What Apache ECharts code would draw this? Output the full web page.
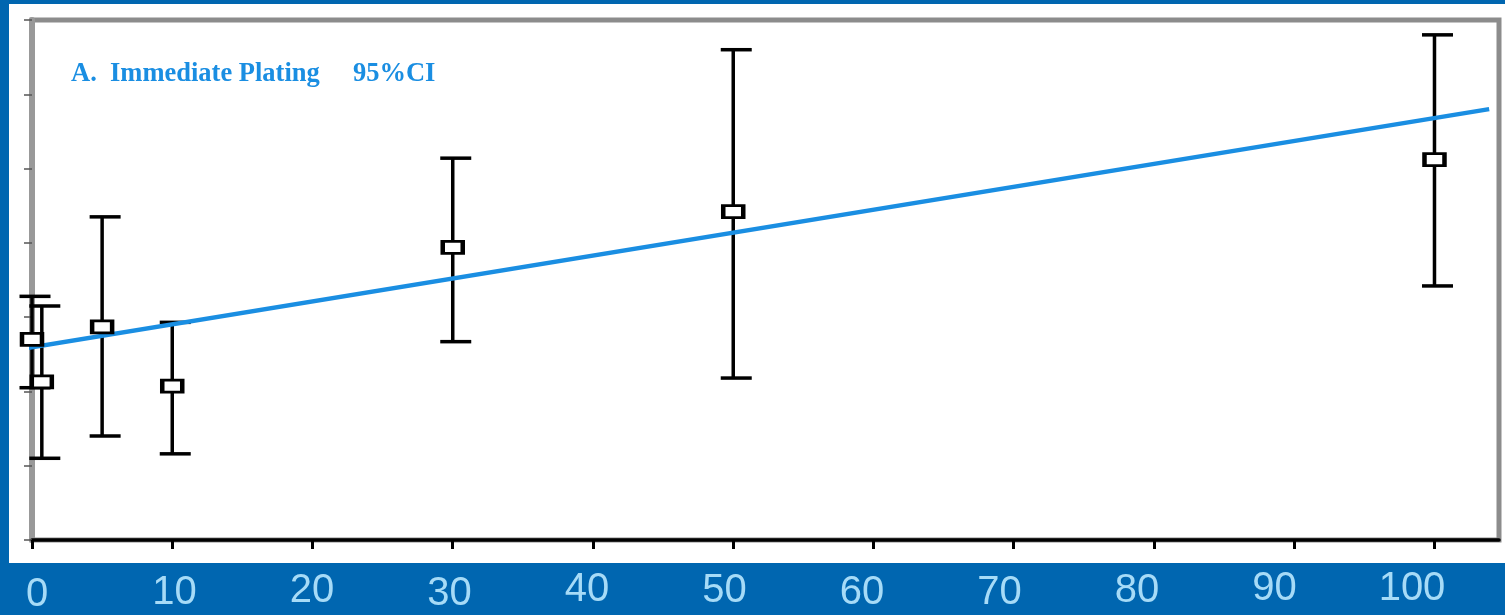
<!DOCTYPE html>
<html>
<head>
<meta charset="utf-8">
<script src="https://cdn.jsdelivr.net/npm/echarts@6/dist/echarts.min.js"></script>
<style>
html,body{margin:0;padding:0;background:#0066b0;}
#c{width:1505px;height:615px;}
</style>
</head>
<body>
<div id="c"></div>
<script>
// ---- data ----
const doseX   = [0, 0.7, 5, 10, 30, 50, 100];
const meanY   = [2.70, 2.13, 2.87, 2.07, 3.94, 4.42, 5.12];
const lowerY  = [2.05, 1.10, 1.40, 1.16, 2.67, 2.18, 3.42];
const upperY  = [3.28, 3.15, 4.35, 2.93, 5.14, 6.60, 6.80];
const fitX    = [-1.1, 103.9];
const fitY    = [2.56, 5.80];
const xTicks  = [0, 10, 20, 30, 40, 50, 60, 70, 80, 90, 100];
const xTickLabels = ['0','10','20','30','40','50','60','70','80','90','100'];
const titleText = 'A.  Immediate Plating     95%CI';

// label vertical stagger (style only)
const labelLift = [0, 2, 4, 1.5, 5, 4, 2, 2.5, 4.5, 6, 6];

const chart = echarts.init(document.getElementById('c'), null, {renderer: 'canvas'});

const rich = {};
labelLift.forEach((s, i) => {
  rich['s' + i] = {
    fontSize: 40,
    fontFamily: 'Liberation Sans, Arial, sans-serif',
    color: '#a6dbf7',
    padding: [0, 0, 2 * s, 0]
  };
});

const option = {
  backgroundColor: '#0066b0',
  animation: false,
  graphic: [{
    type: 'rect',
    z: -10,
    shape: {x: 9, y: 4, width: 1496, height: 559},
    style: {fill: '#ffffff'},
    silent: true
  }],
  title: {
    text: titleText,
    left: 71,
    top: 61,
    padding: 0,
    textStyle: {
      fontFamily: 'Liberation Serif, Times New Roman, serif',
      fontWeight: 'bold',
      fontSize: 26.5,
      color: '#1a8ee2'
    }
  },
  grid: [
    {left: 32, right: 6, top: 20, bottom: 75, show: true, borderColor: '#8c8c8c', borderWidth: 5, backgroundColor: 'transparent'},
    {left: 37, width: 1375, top: 0, height: 563, show: false}
  ],
  xAxis: [
    {
      type: 'value', gridIndex: 0, min: 0, max: 104.6, interval: 10,
      axisLine: {show: true, onZero: false, lineStyle: {color: '#000', width: 3.5}},
      axisTick: {show: true, customValues: xTicks, length: 9, lineStyle: {color: '#000', width: 3}},
      axisLabel: {show: false},
      splitLine: {show: false}
    },
    {
      type: 'value', gridIndex: 1, min: 0, max: 100, interval: 10,
      axisLine: {show: false},
      axisTick: {show: false},
      splitLine: {show: false},
      axisLabel: {
        show: true,
        margin: 36,
        verticalAlign: 'middle',
        formatter: function (v) {
          const i = xTicks.indexOf(v);
          if (i < 0) return '';
          return '{s' + i + '|' + xTickLabels[i] + '}';
        },
        rich: rich
      }
    }
  ],
  yAxis: [
    {
      type: 'value', gridIndex: 0, min: 0, max: 7, interval: 1,
      axisLine: {show: true, onZero: false, lineStyle: {color: '#999', width: 6}},
      axisTick: {show: true, length: 8, lineStyle: {color: '#555', width: 1.5}},
      axisLabel: {show: false},
      splitLine: {show: false}
    },
    {
      type: 'value', gridIndex: 1, min: 0, max: 1, show: false
    }
  ],
  series: [
    {
      type: 'custom',
      xAxisIndex: 0, yAxisIndex: 0,
      z: 2,
      data: doseX.map((x, i) => [x, lowerY[i], upperY[i]]),
      renderItem: function (params, api) {
        const x = api.value(0);
        const lo = api.coord([x, api.value(1)]);
        const hi = api.coord([x, api.value(2)]);
        const half = 15.5, off = 3;
        const st = {stroke: '#000', lineWidth: 3.5, fill: null};
        return {
          type: 'group',
          children: [
            {type: 'line', shape: {x1: lo[0], y1: lo[1], x2: hi[0], y2: hi[1]}, style: st},
            {type: 'line', shape: {x1: hi[0] - half + off, y1: hi[1], x2: hi[0] + half + off, y2: hi[1]}, style: st},
            {type: 'line', shape: {x1: lo[0] - half + off, y1: lo[1], x2: lo[0] + half + off, y2: lo[1]}, style: st}
          ]
        };
      },
      clip: false
    },
    {
      type: 'line',
      xAxisIndex: 0, yAxisIndex: 0,
      z: 3,
      data: fitX.map((x, i) => [x, fitY[i]]),
      showSymbol: false,
      symbol: 'none',
      clip: false,
      lineStyle: {color: '#1a8ee2', width: 4.5}
    },
    {
      type: 'scatter',
      xAxisIndex: 0, yAxisIndex: 0,
      z: 4,
      data: doseX.map((x, i) => [x, meanY[i]]),
      symbol: 'rect',
      symbolSize: [20, 12],
      clip: false,
      itemStyle: {color: '#fff', borderColor: '#000', borderWidth: 3.5, opacity: 1}
    }
  ]
};
chart.setOption(option);
</script>
</body>
</html>
